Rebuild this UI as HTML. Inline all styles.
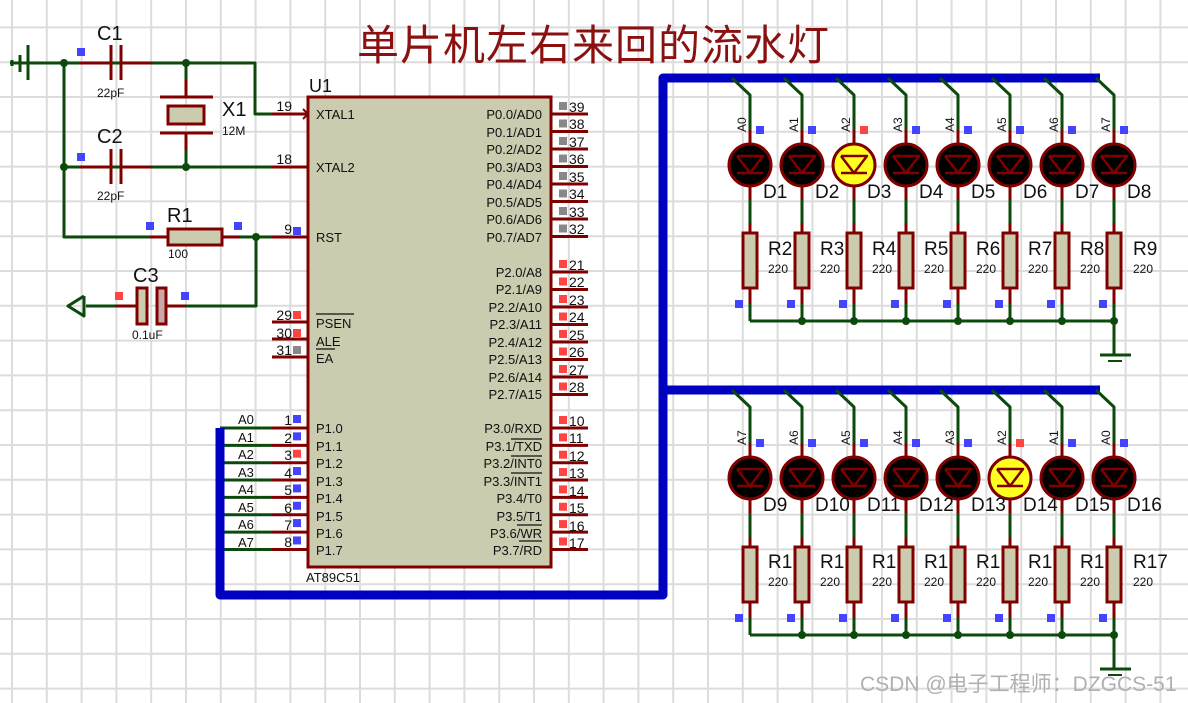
<!DOCTYPE html>
<html><head><meta charset="utf-8"><style>
html,body{margin:0;padding:0;background:#fff;}
svg{display:block;font-family:"Liberation Sans","Noto Sans CJK SC",sans-serif;}
</style></head><body>
<svg id="s" width="1188" height="703" viewBox="0 0 1188 703" xmlns="http://www.w3.org/2000/svg">
<g id="grid" stroke="#dcdcdc" stroke-width="2"></g>
<g id="g1"></g>
<!-- title -->
<text x="357" y="60" font-size="42" letter-spacing="1" fill="#8b1010" font-family="'Noto Sans CJK SC','WenQuanYi Zen Hei',sans-serif">单片机左右来回的流水灯</text>
<!-- left circuit labels -->
<g fill="#111">
<text x="97" y="40" font-size="20">C1</text>
<text x="97" y="97" font-size="12">22pF</text>
<text x="97" y="143" font-size="20">C2</text>
<text x="97" y="200" font-size="12">22pF</text>
<text x="222" y="116" font-size="20">X1</text>
<text x="222" y="135" font-size="12">12M</text>
<text x="167" y="222" font-size="20">R1</text>
<text x="168" y="258" font-size="12">100</text>
<text x="133" y="282" font-size="20">C3</text>
<text x="132" y="339" font-size="12">0.1uF</text>
<text x="309" y="92" font-size="18">U1</text>
<text x="306" y="582" font-size="13">AT89C51</text>
</g>
<g id="g2"></g>
<!-- MCU text -->
<g font-size="13" fill="#111">
<text x="316" y="119">XTAL1</text>
<text x="316" y="172">XTAL2</text>
<text x="316" y="242">RST</text>
<text x="316" y="328">PSEN</text>
<text x="316" y="346">ALE</text>
<text x="316" y="363">EA</text>
<g text-anchor="end">
<text x="542" y="119">P0.0/AD0</text><text x="542" y="137">P0.1/AD1</text><text x="542" y="154">P0.2/AD2</text><text x="542" y="172">P0.3/AD3</text><text x="542" y="189">P0.4/AD4</text><text x="542" y="207">P0.5/AD5</text><text x="542" y="224">P0.6/AD6</text><text x="542" y="242">P0.7/AD7</text>
<text x="542" y="277">P2.0/A8</text><text x="542" y="294">P2.1/A9</text><text x="542" y="312">P2.2/A10</text><text x="542" y="329">P2.3/A11</text><text x="542" y="347">P2.4/A12</text><text x="542" y="364">P2.5/A13</text><text x="542" y="382">P2.6/A14</text><text x="542" y="399">P2.7/A15</text>
<text x="542" y="433">P3.0/RXD</text><text x="542" y="451">P3.1/TXD</text><text x="542" y="468">P3.2/INT0</text><text x="542" y="486">P3.3/INT1</text><text x="542" y="503">P3.4/T0</text><text x="542" y="521">P3.5/T1</text><text x="542" y="538">P3.6/WR</text><text x="542" y="555">P3.7/RD</text>
</g>
<text x="316" y="433">P1.0</text><text x="316" y="451">P1.1</text><text x="316" y="468">P1.2</text><text x="316" y="486">P1.3</text><text x="316" y="503">P1.4</text><text x="316" y="521">P1.5</text><text x="316" y="538">P1.6</text><text x="316" y="555">P1.7</text>
<text x="238" y="424">A0</text><text x="238" y="442">A1</text><text x="238" y="459">A2</text><text x="238" y="477">A3</text><text x="238" y="494">A4</text><text x="238" y="512">A5</text><text x="238" y="529">A6</text><text x="238" y="547">A7</text>
</g>
<g font-size="14" fill="#111">
<g text-anchor="end">
<text x="292" y="111">19</text><text x="292" y="164">18</text><text x="292" y="234">9</text><text x="292" y="320">29</text><text x="292" y="338">30</text><text x="292" y="355">31</text>
<text x="292" y="425">1</text><text x="292" y="443">2</text><text x="292" y="460">3</text><text x="292" y="478">4</text><text x="292" y="495">5</text><text x="292" y="513">6</text><text x="292" y="530">7</text><text x="292" y="547">8</text>
</g>
<text x="569" y="112">39</text><text x="569" y="129">38</text><text x="569" y="147">37</text><text x="569" y="164">36</text><text x="569" y="182">35</text><text x="569" y="199">34</text><text x="569" y="217">33</text><text x="569" y="234">32</text>
<text x="569" y="270">21</text><text x="569" y="287">22</text><text x="569" y="305">23</text><text x="569" y="322">24</text><text x="569" y="340">25</text><text x="569" y="357">26</text><text x="569" y="375">27</text><text x="569" y="392">28</text>
<text x="569" y="426">10</text><text x="569" y="443">11</text><text x="569" y="461">12</text><text x="569" y="478">13</text><text x="569" y="496">14</text><text x="569" y="513">15</text><text x="569" y="531">16</text><text x="569" y="548">17</text>
</g>
<!-- LED row labels -->
<g font-size="12" fill="#111">
<text transform="translate(746,132) rotate(-90)">A0</text><text transform="translate(798,132) rotate(-90)">A1</text><text transform="translate(850,132) rotate(-90)">A2</text><text transform="translate(902,132) rotate(-90)">A3</text><text transform="translate(954,132) rotate(-90)">A4</text><text transform="translate(1006,132) rotate(-90)">A5</text><text transform="translate(1058,132) rotate(-90)">A6</text><text transform="translate(1110,132) rotate(-90)">A7</text>
<text transform="translate(746,445) rotate(-90)">A7</text><text transform="translate(798,445) rotate(-90)">A6</text><text transform="translate(850,445) rotate(-90)">A5</text><text transform="translate(902,445) rotate(-90)">A4</text><text transform="translate(954,445) rotate(-90)">A3</text><text transform="translate(1006,445) rotate(-90)">A2</text><text transform="translate(1058,445) rotate(-90)">A1</text><text transform="translate(1110,445) rotate(-90)">A0</text>
</g>
<g font-size="19" fill="#111">
<text x="768" y="255">R2</text><text x="820" y="255">R3</text><text x="872" y="255">R4</text><text x="924" y="255">R5</text><text x="976" y="255">R6</text><text x="1028" y="255">R7</text><text x="1080" y="255">R8</text><text x="1133" y="255">R9</text>
<text x="768" y="568">R1</text><text x="820" y="568">R1</text><text x="872" y="568">R1</text><text x="924" y="568">R1</text><text x="976" y="568">R1</text><text x="1028" y="568">R1</text><text x="1080" y="568">R1</text><text x="1133" y="568">R17</text>
</g>
<g font-size="12" fill="#111">
<text x="768" y="273">220</text><text x="820" y="273">220</text><text x="872" y="273">220</text><text x="924" y="273">220</text><text x="976" y="273">220</text><text x="1028" y="273">220</text><text x="1080" y="273">220</text><text x="1133" y="273">220</text>
<text x="768" y="586">220</text><text x="820" y="586">220</text><text x="872" y="586">220</text><text x="924" y="586">220</text><text x="976" y="586">220</text><text x="1028" y="586">220</text><text x="1080" y="586">220</text><text x="1133" y="586">220</text>
</g>
<g id="g3"></g>
<g font-size="19" fill="#111">
<text x="763" y="198">D1</text><text x="815" y="198">D2</text><text x="867" y="198">D3</text><text x="919" y="198">D4</text><text x="971" y="198">D5</text><text x="1023" y="198">D6</text><text x="1075" y="198">D7</text><text x="1127" y="198">D8</text>
<text x="763" y="511">D9</text><text x="815" y="511">D10</text><text x="867" y="511">D11</text><text x="919" y="511">D12</text><text x="971" y="511">D13</text><text x="1023" y="511">D14</text><text x="1075" y="511">D15</text><text x="1127" y="511">D16</text>
</g>
<text x="860" y="691" font-size="21" fill="#b0b0b0" font-family="'Liberation Sans','Noto Sans CJK SC',sans-serif">CSDN @电子工程师：DZGCS-51</text>
</svg>
<script>
var NS="http://www.w3.org/2000/svg";
function el(p,t,a){var e=document.createElementNS(NS,t);for(var k in a)e.setAttribute(k,a[k]);document.getElementById(p).appendChild(e);return e;}
var G="#0b4a0b",R="#800000",F="#cbcbaf",B="#0000c0",BL="#4444ff",RD="#ff4444",GR="#888";
for(var x=12;x<1188;x+=34.8)el("grid","line",{x1:x,y1:0,x2:x,y2:703});
for(var y=27.4;y<703;y+=34.8)el("grid","line",{x1:0,y1:y,x2:1188,y2:y});
function L(p,pts,c,w){el(p,"polyline",{points:pts,fill:"none",stroke:c,"stroke-width":w||3,"stroke-linejoin":"round"});}
function dot(p,x,y){el(p,"circle",{cx:x,cy:y,r:4,fill:G});}
function sq(p,x,y,c){el(p,"rect",{x:x,y:y,width:8,height:8,fill:c});}
L("g1","28,63 255,63 255,114 272,114",G);L("g1","64,63 64,237 150,237",G);L("g1","64,167 272,167",G);
L("g1","186,63 186,80",G);L("g1","186,150 186,167",G);
L("g1","80,63 111,63",R);L("g1","121,63 152,63",R);L("g1","80,167 111,167",R);L("g1","121,167 152,167",R);
L("g1","111,45 111,80",R);L("g1","121,45 121,80",R);L("g1","111,149 111,184",R);L("g1","121,149 121,184",R);
L("g1","186,80 186,97",R);L("g1","160,97 213,97",R);L("g1","160,133 213,133",R);L("g1","186,133 186,150",R);
el("g1","rect",{x:168,y:106,width:36,height:18,fill:F,stroke:R,"stroke-width":3});
L("g1","150,237 168,237",R);L("g1","222,237 240,237",R);L("g1","240,237 272,237",G);
el("g1","rect",{x:168,y:229,width:54,height:16,fill:F,stroke:R,"stroke-width":3});
L("g1","256,237 256,306 186,306",G);L("g1","166,306 186,306",R);L("g1","115,306 137,306",R);L("g1","86,306 115,306",G);
el("g1","rect",{x:137,y:288,width:10,height:36,fill:F,stroke:R,"stroke-width":3});
el("g1","rect",{x:157,y:288,width:9,height:36,fill:"#c8a8a8",stroke:R,"stroke-width":3});
L("g1","84,296 68,306 84,316 84,296",G);
L("g1","10,63 28,63",G);L("g1","28,45 28,80",G);L("g1","20,55 20,72",G);L("g1","12,60 12,66",G);
dot("g1",64,63);dot("g1",186,63);dot("g1",64,167);dot("g1",186,167);dot("g1",256,237);
sq("g1",77,48,BL);sq("g1",77,153,BL);sq("g1",146,222,BL);sq("g1",234,222,BL);sq("g1",115,292,RD);sq("g1",181,292,BL);
el("g2","rect",{x:308,y:97,width:243,height:470,fill:F,stroke:R,"stroke-width":3});
L("g2","303,109 308,114 303,119",R,2);
[114,167,237,322,339,357].forEach(function(y){L("g2","272,"+y+" 308,"+y,R);});
L("g2","316,314 354,314",'#111',1.3);L("g2","316,349 335,349",'#111',1.3);
sq("g2",293,227,BL);sq("g2",293,311,RD);sq("g2",293,329,RD);sq("g2",293,346,GR);
for(var i=0;i<8;i++){var y=114+i*17.5;L("g2","551,"+y+" 588,"+y,R);sq("g2",559,y-12,GR);
 y=272+i*17.5;L("g2","551,"+y+" 588,"+y,R);sq("g2",559,y-12,RD);
 y=428+i*17.35;L("g2","551,"+y+" 588,"+y,R);sq("g2",559,y-12,RD);
 L("g2","272,"+y+" 308,"+y,R);L("g2","220,"+y+" 272,"+y,G);sq("g2",293,y-13,i==2?RD:BL);}
L("g2","511,439 542,439",'#111',1.3);L("g2","511,456 542,456",'#111',1.3);L("g2","511,473 542,473",'#111',1.3);L("g2","517,525 542,525",'#111',1.3);L("g2","519,541 542,541",'#111',1.3);
L("g2","220,428 220,595 663,595 663,78 1100,78",B,9);L("g2","663,390 1100,390",B,9);
function row(yb,yl,yr0,yr1,ybot,lit){
 for(var i=0;i<8;i++){var x=750+52*i;
  L("g3",(x-18)+","+yb+" "+x+","+(yb+17)+" "+x+","+(yl-35),G);
  L("g3",x+","+(yl-35)+" "+x+","+(yl+35),R);
  L("g3",x+","+(yl+35)+" "+x+","+(yr0-10),G);
  L("g3",x+","+(yr0-10)+" "+x+","+(ybot-17),R);
  L("g3",x+","+(ybot-17)+" "+x+","+ybot,G);
  el("g3","circle",{cx:x,cy:yl,r:21,fill:i==lit?"#ffff20":"#000",stroke:R,"stroke-width":3});
  L("g3",(x-13)+","+(yl-9)+" "+(x+13)+","+(yl-9)+" "+x+","+(yl+8)+" "+(x-13)+","+(yl-9),R,2.5);
  L("g3",(x-13)+","+(yl+8)+" "+(x+13)+","+(yl+8),R,2.5);
  el("g3","rect",{x:x-7,y:yr0,width:14,height:yr1-yr0,fill:F,stroke:R,"stroke-width":3});
  sq("g3",x+6,yl-39,i==lit?RD:BL);sq("g3",x-15,ybot-21,BL);
  if(i>0)dot("g3",x,ybot);}
 L("g3","750,"+ybot+" 1114,"+ybot+" 1114,"+(ybot+34),G);
 L("g3","1100,"+(ybot+34)+" 1131,"+(ybot+34),G);L("g3","1108,"+(ybot+40)+" 1122,"+(ybot+40),G,2);
}
row(78,165,233,288,321,2);row(390,478,547,602,635,5);
</script>
</body></html>
